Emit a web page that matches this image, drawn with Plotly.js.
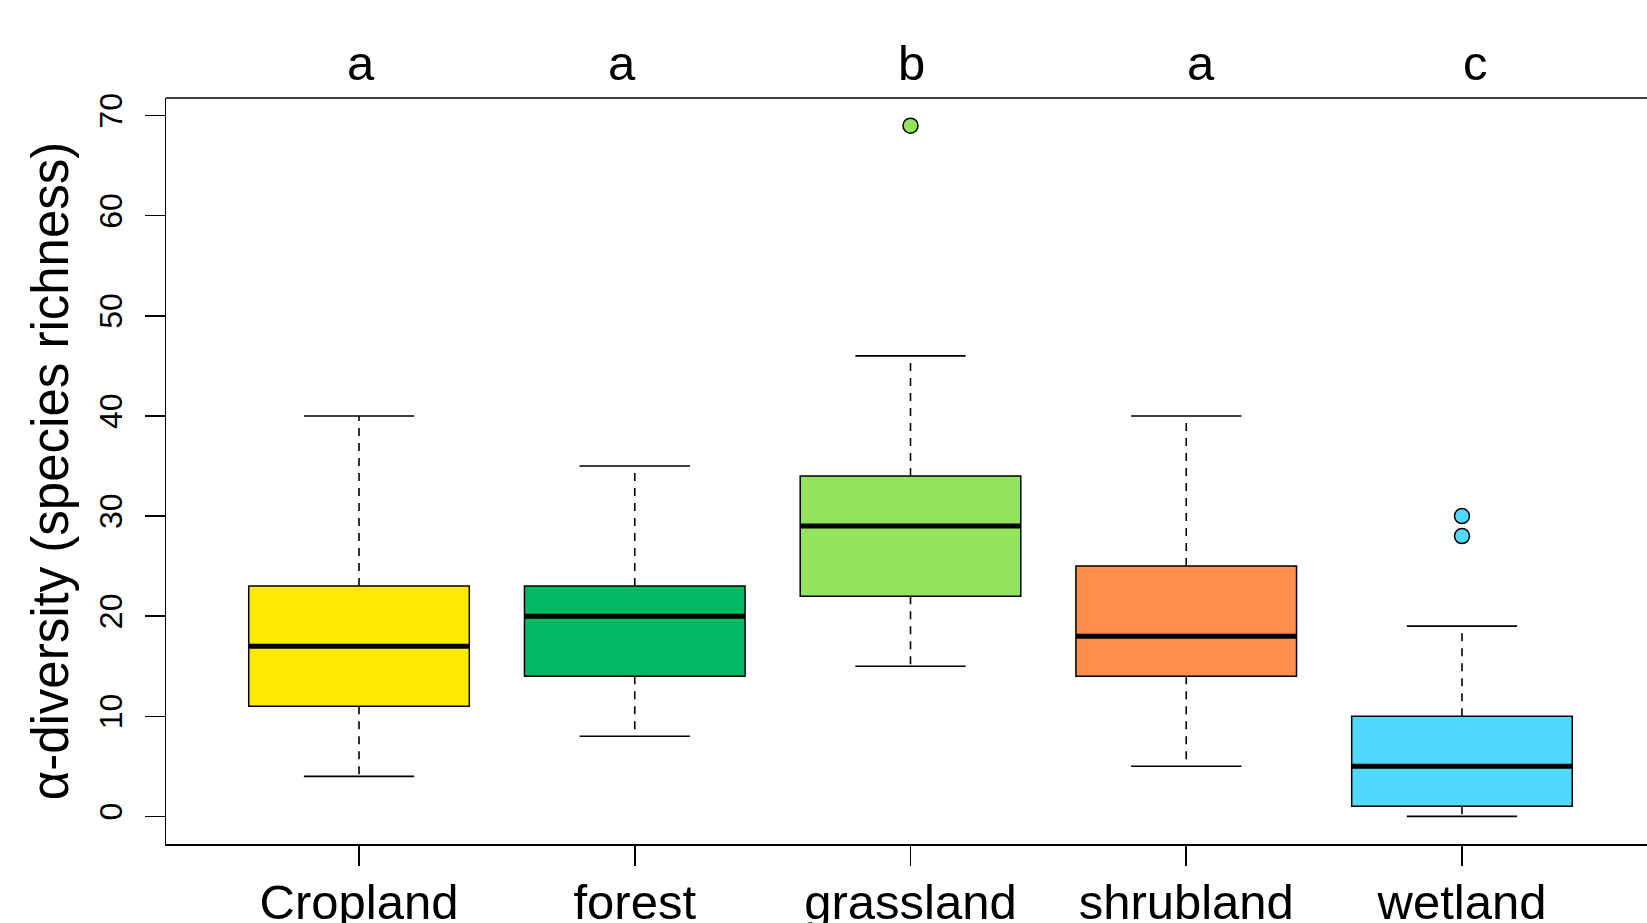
<!DOCTYPE html>
<html>
<head>
<meta charset="utf-8">
<script src="https://cdn.plot.ly/plotly-3.0.1.min.js"></script>
<style>
  html, body { margin: 0; padding: 0; background: #ffffff; overflow: hidden; }
  #chart { width: 1647px; height: 923px; }
</style>
</head>
<body>
<div id="chart"></div>
<script>
// ---- data ----
var categories = ["Cropland", "forest", "grassland", "shrubland", "wetland"];
var lowerWhisker = [4, 8, 15, 5, 0];
var q1Values     = [11, 14, 22, 14, 1];
var medianValues = [17, 20, 29, 18, 5];
var q3Values     = [23, 23, 34, 25, 10];
var upperWhisker = [40, 35, 46, 40, 19];
var outlierValues = [[], [], [69], [], [30, 28]];
var groupLetters = ["a", "a", "b", "a", "c"];
var yTickValues = [0, 10, 20, 30, 40, 50, 60, 70];

// ---- styles ----
var fillColors = ["#FFE900", "#00BA63", "#93E35B", "#FF8E4C", "#50D8FF"];
var letterOffset = [0.006, -0.046, 0.005, 0.054, 0.048];
var FONT = "Liberation Sans, Arial, Helvetica, sans-serif";
var BOXW = 0.8, STAPLE = 0.4;

var traces = [];
var pos = categories.map(function (c, i) { return i + 1; });

categories.forEach(function (c, i) {
  traces.push({
    type: "box",
    x: [pos[i]],
    q1: [q1Values[i]],
    median: [medianValues[i]],
    q3: [q3Values[i]],
    lowerfence: [q1Values[i]],
    upperfence: [q3Values[i]],
    width: BOXW,
    whiskerwidth: 0,
    fillcolor: fillColors[i],
    line: { color: "#000000", width: 1.5 },
    boxpoints: false,
    hoverinfo: "skip",
    showlegend: false
  });
});

// dashed whiskers, solid staples, thick medians
var wx = [], wy = [], sx = [], sy = [], mx = [], my = [];
categories.forEach(function (c, i) {
  var p = pos[i];
  wx.push(p, p, null, p, p, null);
  wy.push(q3Values[i], upperWhisker[i], null, q1Values[i], lowerWhisker[i], null);
  sx.push(p - STAPLE / 2, p + STAPLE / 2, null, p - STAPLE / 2, p + STAPLE / 2, null);
  sy.push(upperWhisker[i], upperWhisker[i], null, lowerWhisker[i], lowerWhisker[i], null);
  mx.push(p - BOXW / 2, p + BOXW / 2, null);
  my.push(medianValues[i], medianValues[i], null);
});
traces.push({ type: "scatter", mode: "lines", x: wx, y: wy, line: { color: "#000", width: 1.6, dash: "8px,7px" }, hoverinfo: "skip", showlegend: false });
traces.push({ type: "scatter", mode: "lines", x: sx, y: sy, line: { color: "#000", width: 1.6 }, hoverinfo: "skip", showlegend: false });
traces.push({ type: "scatter", mode: "lines", x: mx, y: my, line: { color: "#000", width: 5 }, hoverinfo: "skip", showlegend: false });

categories.forEach(function (c, i) {
  if (!outlierValues[i].length) return;
  traces.push({
    type: "scatter", mode: "markers",
    x: outlierValues[i].map(function () { return pos[i]; }),
    y: outlierValues[i],
    marker: { size: 15, color: fillColors[i], line: { color: "#000", width: 1.5 } },
    hoverinfo: "skip", showlegend: false
  });
});

var annotations = groupLetters.map(function (L, i) {
  return {
    text: L, x: pos[i] + letterOffset[i], xref: "x", y: 1, yref: "paper",
    yanchor: "bottom", yshift: 6, showarrow: false,
    font: { family: FONT, size: 49, color: "#000" }
  };
});

var layout = {
  width: 1647, height: 923,
  margin: { l: 166, r: 0, t: 98, b: 79, pad: 0 },
  paper_bgcolor: "#ffffff", plot_bgcolor: "#ffffff",
  boxmode: "overlay",
  showlegend: false,
  font: { family: FONT, color: "#000" },
  xaxis: {
    range: [0.3, 5.671], tickvals: pos, ticktext: categories,
    ticks: "outside", ticklen: 20, tickwidth: 1.5, tickcolor: "#000",
    ticklabelstandoff: -5,
    showline: true, linecolor: "#000", linewidth: 1.5,
    showgrid: false, zeroline: false,
    tickfont: { family: FONT, size: 49, color: "#000" }
  },
  yaxis: {
    range: [-2.76, 71.76], tickvals: yTickValues,
    ticks: "outside", ticklen: 20, tickwidth: 1.5, tickcolor: "#000",
    tickangle: -90, ticklabelstandoff: 10,
    showline: true, linecolor: "#000", linewidth: 1.5,
    showgrid: false, zeroline: false,
    tickfont: { family: FONT, size: 32, color: "#000" },
    title: { text: "α-diversity (species richness)", font: { family: FONT, size: 51, color: "#000" }, standoff: 8 }
  },
  shapes: [{
    type: "line", xref: "paper", yref: "paper", x0: 0, x1: 1, y0: 1, y1: 1,
    line: { color: "#000", width: 1.5 }
  }],
  annotations: annotations
};

Plotly.newPlot("chart", traces, layout, { displayModeBar: false, staticPlot: true });
</script>
</body>
</html>
